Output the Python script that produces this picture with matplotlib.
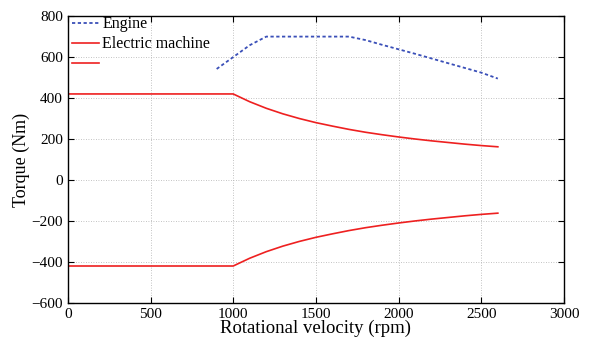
import matplotlib
matplotlib.use("Agg")
import matplotlib.pyplot as plt

# engine torque envelope
engine_rpm = [900, 1000, 1100, 1200, 1300, 1400, 1500, 1600, 1700, 1800, 1900, 2000,
              2100, 2200, 2300, 2400, 2500, 2600]
engine_torque = [542, 600, 658, 700, 700, 700, 700, 700, 700, 683, 660, 638,
                 616, 593, 570, 547, 524, 495]

# electric machine torque limit
em_rpm = [0, 1000, 1100, 1200, 1300, 1400, 1500, 1600, 1700, 1800, 1900, 2000,
          2100, 2200, 2300, 2400, 2500, 2600]
em_torque = [420, 420, 382, 350, 323, 300, 280, 263, 247, 233, 221, 210,
             200, 191, 183, 175, 168, 162]
em_torque_neg = [-t for t in em_torque]

xticks = [0, 500, 1000, 1500, 2000, 2500, 3000]
yticks = [-600, -400, -200, 0, 200, 400, 600, 800]

plt.rcParams['font.family'] = 'Liberation Serif'
plt.rcParams['axes.unicode_minus'] = True

fig = plt.figure(figsize=(6, 3.43), dpi=100)
ax = fig.add_axes([0.113, 0.117, 0.827, 0.836])

ax.plot(engine_rpm, engine_torque, color="#3a4fb8", linestyle=(0, (1.8, 1.4)), linewidth=1.3, label="Engine")
ax.plot(em_rpm, em_torque, color="#ee2020", linewidth=1.2, label="Electric machine")
ax.plot(em_rpm, em_torque_neg, color="#ee2020", linewidth=1.2, label=" ")

ax.set_xlim(0, 3000)
ax.set_ylim(-600, 800)
ax.set_xticks(xticks)
ax.set_yticks(yticks)
ax.tick_params(direction="in", top=True, right=True, labelsize=11, length=4, width=0.8)
ax.tick_params(axis="x", pad=4)
ax.grid(True, linestyle=(0, (1, 2)), linewidth=0.6, color="#b0b0b0")
for s in ax.spines.values():
    s.set_linewidth(1.0)

ax.set_xlabel("Rotational velocity (rpm)", fontsize=13.5, labelpad=-1)
ax.set_ylabel("Torque (Nm)", fontsize=13, labelpad=1)

leg = ax.legend(loc="upper left", bbox_to_anchor=(0.008, 1.0), frameon=False, fontsize=11.5,
                handlelength=1.7, handletextpad=0.2, labelspacing=0.25, borderaxespad=0.0, borderpad=0.0)

plt.savefig("out.png", dpi=100)
